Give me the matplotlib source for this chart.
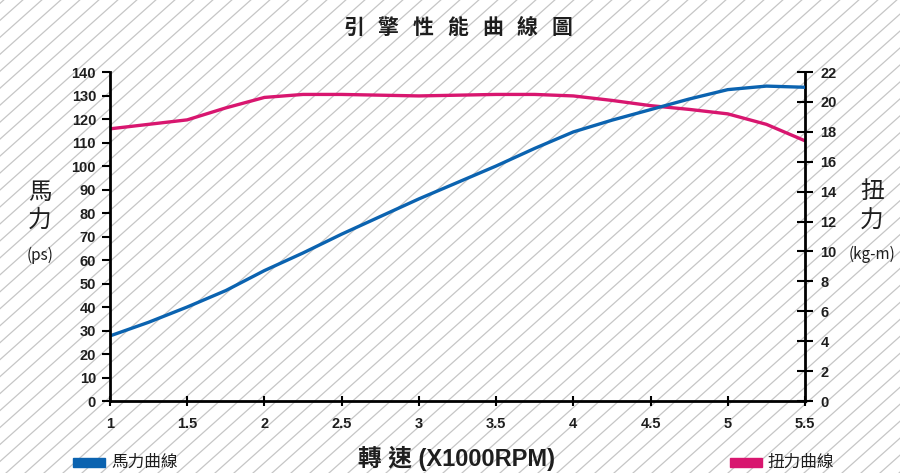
import numpy as np
import matplotlib.pyplot as plt

plt.rcParams['font.family'] = ['Liberation Sans', 'Noto Sans CJK TC', 'DejaVu Sans']

# engine speed (x1000 rpm)
rpm = [1.0, 1.25, 1.5, 1.75, 2.0, 2.25, 2.5, 2.75, 3.0, 3.25, 3.5,
       3.75, 4.0, 4.25, 4.5, 4.75, 5.0, 5.25, 5.5]
# horsepower (ps)
hp = [27.7, 33.5, 40, 47, 55.5, 63, 71, 78.5, 86, 93, 100,
      107.5, 114.5, 119.5, 124, 128.5, 132.5, 134, 133.5]
# torque (kg-m)
torque = [18.2, 18.5, 18.8, 19.6, 20.3, 20.5, 20.5, 20.45, 20.4, 20.45, 20.5,
          20.5, 20.4, 20.1, 19.75, 19.5, 19.2, 18.5, 17.4]

x_ticks = [1, 1.5, 2, 2.5, 3, 3.5, 4, 4.5, 5, 5.5]
x_labels = ['1', '1.5', '2', '2.5', '3', '3.5', '4', '4.5', '5', '5.5']
title_chars = ['引', '擎', '性', '能', '曲', '線', '圖']

blue = '#0b63b0'
pink = '#d8166f'
txt = '#1e1e1e'
cjk = ['Noto Sans CJK TC', 'DejaVu Sans']
mixed = ['Liberation Sans', 'Noto Sans CJK TC']

W, H = 900, 473
fig = plt.figure(figsize=(W / 100, H / 100), dpi=100)

# diagonal hatch background
bg = fig.add_axes([0, 0, 1, 1], zorder=-10)
bg.set_xlim(0, W)
bg.set_ylim(H, 0)
bg.axis('off')
for c in np.arange(-640, W + 20, 19):
    bg.plot([c, c + H * 1.12], [H, 0], color='#c6c6c6', lw=0.9, zorder=1)

ax = fig.add_axes([110 / W, 1 - 401 / H, 695 / W, 329 / H])
ax.patch.set_alpha(0)
ax.plot(rpm, hp, color=blue, lw=2.4, solid_capstyle='butt')
ax.set_xlim(1, 5.5)
ax.set_ylim(0, 140)
ax.set_yticks(range(0, 141, 10))
ax.set_xticks(x_ticks)
ax.set_xticklabels(x_labels)
for s in ['top', 'right']:
    ax.spines[s].set_visible(False)
for s in ['left', 'bottom']:
    ax.spines[s].set_linewidth(2)
ax.tick_params(axis='y', direction='out', length=6, width=1.5, labelsize=10.5,
               pad=4, labelcolor=txt)
ax.tick_params(axis='x', direction='inout', length=7, width=1.5, labelsize=10.5,
               pad=8, labelcolor=txt)
for lab in ax.get_xticklabels() + ax.get_yticklabels():
    lab.set_fontweight('bold')

ax2 = ax.twinx()
ax2.plot(rpm, torque, color=pink, lw=2.4, solid_capstyle='butt')
ax2.set_ylim(0, 22)
ax2.set_yticks(range(0, 23, 2))
for s in ['top', 'left', 'bottom']:
    ax2.spines[s].set_visible(False)
ax2.spines['right'].set_linewidth(2)
ax2.tick_params(axis='y', direction='inout', length=12, width=1.5, labelsize=10.5,
                pad=5, labelcolor=txt)
for lab in ax2.get_yticklabels():
    lab.set_fontweight('bold')
ax.set_zorder(ax2.get_zorder() + 1)

# title, letter-spaced
for i, ch in enumerate(title_chars):
    bg.text(354 + i * 34.6, 27, ch, family=cjk, fontsize=15, fontweight='bold',
            color=txt, ha='center', va='center')

# axis labels
bg.text(40, 192, '馬', family=cjk, fontsize=17, color=txt, ha='center', va='center')
bg.text(40, 221, '力', family=cjk, fontsize=17, color=txt, ha='center', va='center')
bg.text(40, 255, '(ps)', family=cjk, fontsize=11, color=txt, ha='center', va='center')
bg.text(872, 191, '扭', family=cjk, fontsize=17, color=txt, ha='center', va='center')
bg.text(872, 221, '力', family=cjk, fontsize=17, color=txt, ha='center', va='center')
bg.text(872, 254, '(kg-m)', family=cjk, fontsize=11, color=txt, ha='center', va='center')
bg.text(457, 458, '轉 速 (X1000RPM)', family=mixed, fontsize=17, fontweight='bold',
        color=txt, ha='center', va='center')

# legend swatches
bg.add_patch(plt.Rectangle((73, 458), 32, 9, color=blue, zorder=5))
bg.text(111, 462, '馬力曲線', family=cjk, fontsize=12, color=txt,
        va='center', ha='left', zorder=5)
bg.add_patch(plt.Rectangle((730, 458), 32, 9, color=pink, zorder=5))
bg.text(767, 462, '扭力曲線', family=cjk, fontsize=12, color=txt,
        va='center', ha='left', zorder=5)

fig.savefig('out.png', dpi=100)
